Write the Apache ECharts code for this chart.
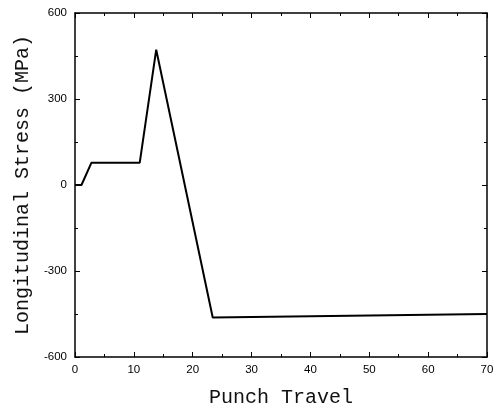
<!DOCTYPE html>
<html><head><meta charset="utf-8">
<script src="https://cdn.jsdelivr.net/npm/echarts@6/dist/echarts.min.js"></script>
<style>html,body{margin:0;padding:0;background:#fff}#c{width:499px;height:412px}</style>
</head><body><div id="c"></div>
<script>
const travel = [0, 1.1, 2.8, 11.0, 13.8, 23.4, 70];
const stress = [0, 0, 78, 78, 472, -462, -450];
const xTicks = [0, 10, 20, 30, 40, 50, 60, 70];
const yTicks = [-600, -300, 0, 300, 600];
const xTitle = 'Punch Travel';
const yTitle = 'Longitudinal Stress (MPa)';

const lbl = {color:'#000', fontFamily:'Liberation Sans', fontSize:11.5};
const line = {show:true, onZero:false, lineStyle:{color:'#000', width:1.5}};
const tick = {show:true, inside:true, length:5, lineStyle:{color:'#000', width:1}};
const minor = {show:true, splitNumber:2, length:3, lineStyle:{color:'#000', width:1}};
const titleFont = {fontFamily:'Liberation Mono', fontSize:20, color:'#111'};
const chart = echarts.init(document.getElementById('c'));
chart.setOption({
  animation:false,
  grid:{left:75, right:12, top:13, bottom:55},
  graphic:[{
    type:'text', x:281, y:398,
    style:{text:xTitle, font:'20px "Liberation Mono"', fill:'#111', align:'center', verticalAlign:'middle'}
  }],
  xAxis:[{
    type:'value', min:xTicks[0], max:xTicks[xTicks.length-1], interval:10,
    axisLine:line, axisTick:tick, minorTick:minor, splitLine:{show:false},
    axisLabel:Object.assign({margin:7}, lbl)
  },{
    type:'value', position:'top', min:0, max:70, interval:10,
    axisLine:line, axisTick:tick, minorTick:minor, splitLine:{show:false}, axisLabel:{show:false}
  }],
  yAxis:[{
    type:'value', min:yTicks[0], max:yTicks[yTicks.length-1], interval:300,
    axisLine:line, axisTick:tick, minorTick:minor, splitLine:{show:false},
    axisLabel:Object.assign({margin:8}, lbl),
    name:yTitle, nameLocation:'middle', nameGap:40, nameTextStyle:titleFont
  },{
    type:'value', position:'right', min:-600, max:600, interval:300,
    axisLine:line, axisTick:tick, minorTick:minor, splitLine:{show:false}, axisLabel:{show:false}
  }],
  series:[{
    type:'line', data:travel.map((x,i)=>[x, stress[i]]), showSymbol:false,
    lineStyle:{color:'#000', width:2}
  }]
});
</script></body></html>
